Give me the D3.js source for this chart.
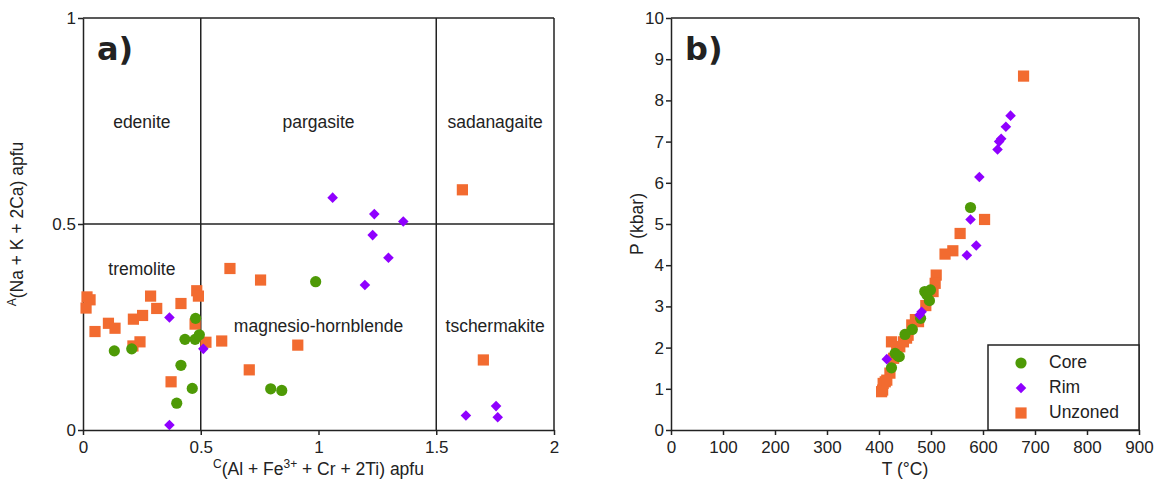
<!DOCTYPE html>
<html>
<head>
<meta charset="utf-8">
<script src="https://cdn.jsdelivr.net/npm/d3@7"></script>
<style>
  body { margin: 0; background: #fff; }
  text { font-family: "Liberation Sans", Arial, sans-serif; fill: #222; }
</style>
</head>
<body>
<script>
// panel a) classification diagram
const aCoreX = [0.133, 0.207, 0.433, 0.476, 0.478, 0.494, 0.416, 0.464, 0.398, 0.988, 0.797, 0.844]
const aCoreY = [0.192, 0.197, 0.220, 0.220, 0.271, 0.231, 0.157, 0.101, 0.065, 0.360, 0.100, 0.096]
const aRimX = [0.367, 0.511, 0.367, 1.060, 1.237, 1.360, 1.230, 1.297, 1.197, 1.626, 1.754, 1.761]
const aRimY = [0.273, 0.197, 0.012, 0.564, 0.524, 0.506, 0.473, 0.418, 0.352, 0.035, 0.058, 0.031]
const aUnzX = [0.017, 0.030, 0.013, 0.051, 0.108, 0.136, 0.214, 0.253, 0.287, 0.313, 0.416, 0.483, 0.490, 0.476,
               0.212, 0.242, 0.374, 0.522, 0.589, 0.624, 0.754, 0.706, 0.912, 1.611, 1.700]
const aUnzY = [0.323, 0.316, 0.296, 0.239, 0.259, 0.247, 0.269, 0.278, 0.325, 0.295, 0.307, 0.338, 0.325, 0.257,
               0.204, 0.214, 0.117, 0.213, 0.216, 0.392, 0.364, 0.146, 0.206, 0.583, 0.170]
const aXTicks = [0, 0.5, 1, 1.5, 2]
const aYTicks = [0, 0.5, 1]
const fields = [
  {name: 'edenite', x: 0.25, y: 0.745},
  {name: 'pargasite', x: 1.0, y: 0.745},
  {name: 'sadanagaite', x: 1.75, y: 0.745},
  {name: 'tremolite', x: 0.25, y: 0.388},
  {name: 'magnesio-hornblende', x: 1.0, y: 0.25},
  {name: 'tschermakite', x: 1.75, y: 0.248}
]

// panel b) P-T
const bCoreT = [576, 488, 499, 497, 480, 464, 450, 431, 439, 424, 436, 492]
const bCoreP = [5.40, 3.36, 3.40, 3.14, 2.71, 2.44, 2.32, 1.86, 1.78, 1.51, 1.80, 3.28]
const bRimT = [653, 644, 635, 631, 628, 593, 576, 587, 569, 482, 478, 415]
const bRimP = [7.63, 7.36, 7.07, 7.00, 6.81, 6.14, 5.11, 4.48, 4.24, 2.87, 2.79, 1.72]
const bUnzT = [678, 603, 556, 542, 527, 510, 508, 504, 476, 463, 453, 424, 440, 428, 421, 412, 407, 405, 408, 415,
               434, 447, 470, 456, 490]
const bUnzP = [8.59, 5.11, 4.77, 4.35, 4.27, 3.76, 3.56, 3.36, 2.63, 2.55, 2.23, 2.14, 2.02, 1.74, 1.38, 1.17, 0.97, 0.93, 1.13, 1.21,
               2.02, 2.14, 2.68, 2.30, 3.02]
const bXTicks = [0, 100, 200, 300, 400, 500, 600, 700, 800, 900]
const bYTicks = [0, 1, 2, 3, 4, 5, 6, 7, 8, 9, 10]

const colCore = '#4e9a06', colRim = '#8f00ff', colUnz = '#f26b30'
const W = 1161, H = 482
const plotTop = 18, plotBottom = 430

const svg = d3.select('body').append('svg').attr('width', W).attr('height', H)

function drawMarker(g, type, x, y, color) {
  if (type === 'core') {
    g.append('circle').attr('cx', x).attr('cy', y).attr('r', 5.6).attr('fill', color)
  } else if (type === 'rim') {
    g.append('path').attr('d', d3.symbol(d3.symbolSquare, 56)())
      .attr('transform', 'translate(' + x + ',' + y + ') rotate(45)').attr('fill', color)
  } else {
    g.append('rect').attr('x', x - 5.6).attr('y', y - 5.6).attr('width', 11.2).attr('height', 11.2).attr('fill', color)
  }
}

function drawSeries(g, xs, ys, sx, sy, type, color) {
  xs.forEach(function(v, i) { drawMarker(g, type, sx(v), sy(ys[i]), color) })
}

function styleAxis(a) {
  a.selectAll('path, line').attr('stroke', '#222').attr('stroke-width', 1.5)
  a.selectAll('text').style('font-size', '17px').attr('fill', '#222')
}

// ---------- panel a ----------
const xa = d3.scaleLinear().domain([0, 2]).range([83, 554])
const ya = d3.scaleLinear().domain([0, 1]).range([plotBottom, plotTop])
const ga = svg.append('g')

const axA = ga.append('g').attr('transform', 'translate(0,' + plotBottom + ')')
  .call(d3.axisBottom(xa).tickValues(aXTicks).tickSize(5).tickPadding(6).tickSizeOuter(0).tickFormat(d3.format('')))
styleAxis(axA)
const ayA = ga.append('g').attr('transform', 'translate(83,0)')
  .call(d3.axisLeft(ya).tickValues(aYTicks).tickSize(5).tickPadding(2).tickSizeOuter(0).tickFormat(d3.format('')))
styleAxis(ayA)

// frame and field boundaries
const gl = ga.append('g')
gl.append('line').attr('x1', xa(0)).attr('x2', xa(2)).attr('y1', ya(1)).attr('y2', ya(1))
gl.append('line').attr('x1', xa(2)).attr('x2', xa(2)).attr('y1', ya(0)).attr('y2', ya(1))
gl.append('line').attr('x1', xa(0.5)).attr('x2', xa(0.5)).attr('y1', ya(0)).attr('y2', ya(1))
gl.append('line').attr('x1', xa(1.5)).attr('x2', xa(1.5)).attr('y1', ya(0)).attr('y2', ya(1))
gl.append('line').attr('x1', xa(0)).attr('x2', xa(2)).attr('y1', ya(0.5)).attr('y2', ya(0.5))
gl.selectAll('line').attr('stroke', '#222').attr('stroke-width', 1.5)

fields.forEach(function(f) {
  ga.append('text').attr('x', xa(f.x)).attr('y', ya(f.y)).attr('text-anchor', 'middle')
    .attr('dominant-baseline', 'middle').style('font-size', '17.5px').text(f.name)
})

drawSeries(ga, aUnzX, aUnzY, xa, ya, 'unz', colUnz)
drawSeries(ga, aCoreX, aCoreY, xa, ya, 'core', colCore)
drawSeries(ga, aRimX, aRimY, xa, ya, 'rim', colRim)

ga.append('text').attr('x', 97).attr('y', 60).style('font-family', '"DejaVu Sans", sans-serif')
  .style('font-size', '32px').style('font-weight', 'bold').attr('fill', '#111').text('a)')

// axis titles with superscripts
const xtA = ga.append('text').attr('x', xa(1)).attr('y', 475).attr('text-anchor', 'middle').style('font-size', '17.5px')
xtA.append('tspan').attr('baseline-shift', 'super').style('font-size', '12px').text('C')
xtA.append('tspan').text('(Al + Fe')
xtA.append('tspan').attr('baseline-shift', 'super').style('font-size', '12px').text('3+')
xtA.append('tspan').text(' + Cr + 2Ti) apfu')

const ytA = ga.append('text').attr('transform', 'translate(23,' + ya(0.5) + ') rotate(-90)')
  .attr('text-anchor', 'middle').style('font-size', '17.5px')
ytA.append('tspan').attr('baseline-shift', 'super').style('font-size', '12px').text('A')
ytA.append('tspan').text('(Na + K + 2Ca) apfu')

// ---------- panel b ----------
const xb = d3.scaleLinear().domain([0, 900]).range([671, 1139])
const yb = d3.scaleLinear().domain([0, 10]).range([plotBottom, plotTop])
const gb = svg.append('g')

const axB = gb.append('g').attr('transform', 'translate(0,' + plotBottom + ')')
  .call(d3.axisBottom(xb).tickValues(bXTicks).tickSize(5).tickPadding(6).tickSizeOuter(0))
styleAxis(axB)
const ayB = gb.append('g').attr('transform', 'translate(671,0)')
  .call(d3.axisLeft(yb).tickValues(bYTicks).tickSize(5).tickPadding(2).tickSizeOuter(0))
styleAxis(ayB)

gb.append('line').attr('class', 'frame').attr('x1', xb(0)).attr('x2', xb(900)).attr('y1', yb(10)).attr('y2', yb(10))
gb.append('line').attr('class', 'frame').attr('x1', xb(900)).attr('x2', xb(900)).attr('y1', yb(0)).attr('y2', yb(10))
gb.selectAll('line.frame').attr('stroke', '#222').attr('stroke-width', 1.5)

drawSeries(gb, bUnzT, bUnzP, xb, yb, 'unz', colUnz)
drawSeries(gb, bCoreT, bCoreP, xb, yb, 'core', colCore)
drawSeries(gb, bRimT, bRimP, xb, yb, 'rim', colRim)

gb.append('text').attr('x', 685).attr('y', 60).style('font-family', '"DejaVu Sans", sans-serif')
  .style('font-size', '32px').style('font-weight', 'bold').attr('fill', '#111').text('b)')

gb.append('text').attr('x', xb(450)).attr('y', 475).attr('text-anchor', 'middle').style('font-size', '17.5px').text('T (°C)')
gb.append('text').attr('transform', 'translate(643,' + yb(5) + ') rotate(-90)')
  .attr('text-anchor', 'middle').style('font-size', '17.5px').text('P (kbar)')

// legend
const leg = gb.append('g')
leg.append('rect').attr('x', 988).attr('y', 345).attr('width', 151).attr('height', 85)
  .attr('fill', '#fff').attr('stroke', '#222').attr('stroke-width', 1.5)
const legItems = [['Core', 'core', colCore], ['Rim', 'rim', colRim], ['Unzoned', 'unz', colUnz]]
legItems.forEach(function(d, i) {
  const y = 363 + i * 25
  drawMarker(leg, d[1], 1021, y, d[2])
  leg.append('text').attr('x', 1049).attr('y', y).attr('dominant-baseline', 'middle')
    .style('font-size', '17.5px').text(d[0])
})
</script>
</body>
</html>
